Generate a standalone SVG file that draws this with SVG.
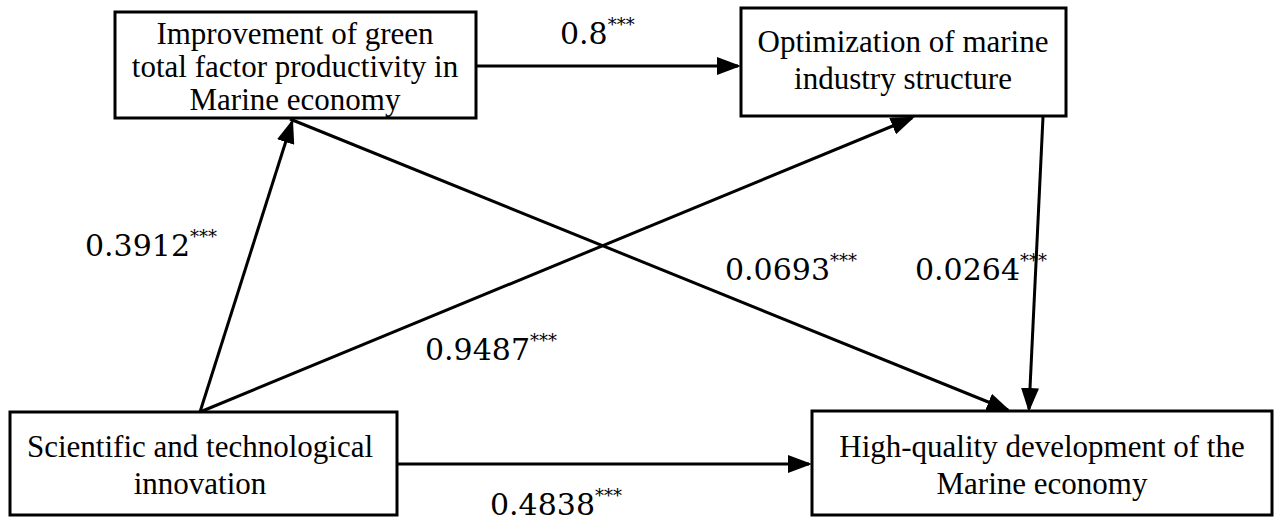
<svg xmlns="http://www.w3.org/2000/svg" width="1280" height="525" viewBox="0 0 1280 525">
<style>
.box{fill:#fff;stroke:#000;stroke-width:3}
.t{font-family:"Liberation Serif",serif;font-size:31px;fill:#000;text-anchor:middle}
.n{font-family:"DejaVu Serif",serif;font-size:30px;fill:#000}
.s{font-size:18px}
.c{stroke:#000;stroke-width:3;fill:none;marker-end:url(#a)}
</style>
<defs><marker id="a" markerWidth="8" markerHeight="6" refX="7" refY="3" orient="auto" markerUnits="strokeWidth"><path d="M0,0L8,3L0,6Z" fill="#000"/></marker></defs>
<rect width="1280" height="525" fill="#fff"/>
<g id="connectors">
<line class="c" x1="476" y1="66" x2="738" y2="66"/>
<line class="c" x1="200" y1="412" x2="292" y2="122"/>
<line class="c" x1="200" y1="412" x2="912" y2="118"/>
<line class="c" x1="290" y1="119" x2="1008" y2="410"/>
<line class="c" x1="1043" y1="117" x2="1029" y2="409"/>
<line class="c" x1="397" y1="464" x2="809" y2="464"/>
<text class="n" x="560" y="44">0.8<tspan class="s" dy="-13">***</tspan></text>
<text class="n" x="85" y="256">0.3912<tspan class="s" dy="-13">***</tspan></text>
<text class="n" x="725" y="280">0.0693<tspan class="s" dy="-13">***</tspan></text>
<text class="n" x="915" y="280">0.0264<tspan class="s" dy="-13">***</tspan></text>
<text class="n" x="425" y="360">0.9487<tspan class="s" dy="-13">***</tspan></text>
<text class="n" x="490" y="515">0.4838<tspan class="s" dy="-13">***</tspan></text>
</g>
<g id="n1"><rect class="box" x="115" y="12" width="361" height="106"/>
<text class="t" x="295" y="44">Improvement of green</text><text class="t" x="295" y="77">total factor productivity in</text><text class="t" x="295" y="110">Marine economy</text></g>
<g id="n2"><rect class="box" x="741" y="8" width="325" height="108"/>
<text class="t" x="903" y="52">Optimization of marine</text><text class="t" x="903" y="89">industry structure</text></g>
<g id="n3"><rect class="box" x="10" y="412" width="387" height="103"/>
<text class="t" x="200" y="457">Scientific and technological</text><text class="t" x="200" y="494">innovation</text></g>
<g id="n4"><rect class="box" x="812" y="411" width="460" height="104"/>
<text class="t" x="1042" y="457">High-quality development of the</text><text class="t" x="1042" y="494">Marine economy</text></g>
</svg>
